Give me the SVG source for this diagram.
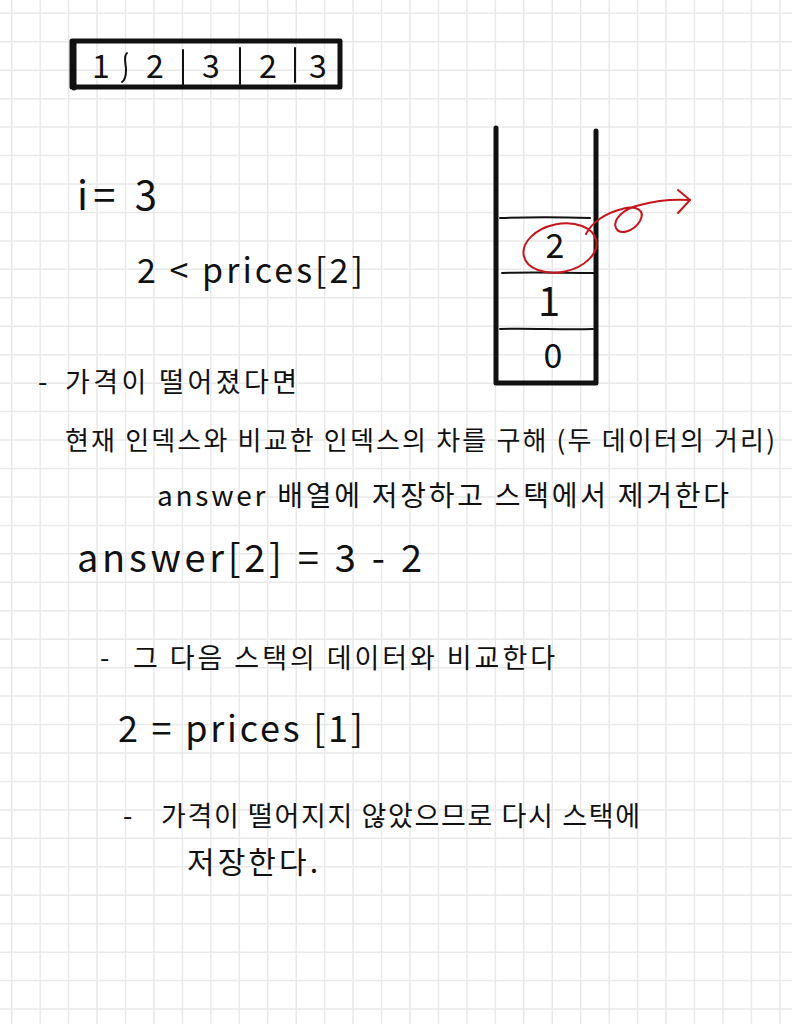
<svg xmlns="http://www.w3.org/2000/svg" width="792" height="1024" viewBox="0 0 792 1024">
<style>
text{font-family:"Noto Sans CJK KR","Noto Sans","Liberation Sans",sans-serif;fill:#111;}
.grid{stroke:#e9e9e9;stroke-width:1.5;fill:none;}
.thick{stroke:#111;stroke-width:5;fill:none;stroke-linecap:round;stroke-linejoin:round;}
.thin{stroke:#111;stroke-width:2;fill:none;stroke-linecap:round;}
.red{stroke:#c4161c;stroke-width:2;fill:none;stroke-linecap:round;stroke-linejoin:round;}
.cell{font-size:32px;text-anchor:middle;}
</style>
<rect width="792" height="1024" fill="#ffffff"/>
<g id="grid" class="grid">
<path d="M11.7 0V1024M40.15 0V1024M68.6 0V1024M97.05 0V1024M125.5 0V1024M153.95 0V1024M182.4 0V1024M210.85 0V1024M239.3 0V1024M267.75 0V1024M296.2 0V1024M324.65 0V1024M353.1 0V1024M381.55 0V1024M410 0V1024M438.45 0V1024M466.9 0V1024M495.35 0V1024M523.8 0V1024M552.25 0V1024M580.7 0V1024M609.15 0V1024M637.6 0V1024M666.05 0V1024M694.5 0V1024M722.95 0V1024M751.4 0V1024M779.85 0V1024"/>
<path d="M0 13.3H792M0 41.75H792M0 70.2H792M0 98.65H792M0 127.1H792M0 155.55H792M0 184H792M0 212.45H792M0 240.9H792M0 269.35H792M0 297.8H792M0 326.25H792M0 354.7H792M0 383.15H792M0 411.6H792M0 440.05H792M0 468.5H792M0 496.95H792M0 525.4H792M0 553.85H792M0 582.3H792M0 610.75H792M0 639.2H792M0 667.65H792M0 696.1H792M0 724.55H792M0 753H792M0 781.45H792M0 809.9H792M0 838.35H792M0 866.8H792M0 895.25H792M0 923.7H792M0 952.15H792M0 980.6H792M0 1009.05H792"/>
</g>
<g id="array">
<rect x="72" y="41" width="268" height="46" class="thick" stroke-width="4.5"/>
<path d="M74 42V88" class="thick" stroke-width="6"/>
<path d="M127 53C123 56 126 64 126 70C126 76 125 80 122 82" class="thin"/>
<path d="M183 50V85" class="thin"/>
<path d="M240 48V84" class="thin"/>
<path d="M295 48V82" class="thin"/>
<text class="cell" x="101" y="78">1</text>
<text class="cell" x="155" y="78">2</text>
<text class="cell" x="211" y="78">3</text>
<text class="cell" x="268" y="78">2</text>
<text class="cell" x="318" y="78">3</text>
</g>
<g id="loop-info">
<text x="77" y="210" style="font-size:40px" textLength="80" lengthAdjust="spacing">i= 3</text>
<text x="137" y="283" style="font-size:34px" textLength="226" lengthAdjust="spacing">2 &lt; prices[2]</text>
</g>
<g id="stack">
<path d="M496 128V383H596V131" class="thick" stroke-width="5.5"/>
<path d="M500 218C530 217 560 217 590 218" class="thin"/>
<path d="M502 273C532 272 565 273 594 273" class="thin"/>
<path d="M500 329C530 328 562 330 593 329" class="thin"/>
<text x="555" y="258" style="font-size:34px" text-anchor="middle">2</text>
<text x="549" y="316" style="font-size:40px" text-anchor="middle">1</text>
<text x="553" y="368" style="font-size:34px" text-anchor="middle">0</text>
</g>
<g id="connectors">
<ellipse cx="560" cy="248" rx="37" ry="24" transform="rotate(-12 560 248)" class="red"/>
<path d="M586 234C592 222 606 213 622 209C636 205 646 210 640 221C634 231 620 236 616 228C612 219 625 208 640 205C658 200 675 199 690 200" class="red"/>
<path d="M678 190L690 200L678 213" class="red"/>
</g>
<g id="notes">
<text style="font-size:27px" y="392"><tspan x="38">-</tspan><tspan x="65" textLength="232" lengthAdjust="spacing">가격이 떨어졌다면</tspan></text>
<text style="font-size:26px" x="65" y="450" textLength="710" lengthAdjust="spacing">현재 인덱스와 비교한 인덱스의 차를 구해 (두 데이터의 거리)</text>
<text style="font-size:28px" x="157" y="506" textLength="572" lengthAdjust="spacing">answer 배열에 저장하고 스택에서 제거한다</text>
<text style="font-size:38px" x="77" y="572" textLength="345" lengthAdjust="spacing">answer[2] = 3 - 2</text>
<text style="font-size:27px" y="668"><tspan x="100">-</tspan><tspan x="133" textLength="422" lengthAdjust="spacing">그 다음 스택의 데이터와 비교한다</tspan></text>
<text style="font-size:36px" x="118" y="742" textLength="245" lengthAdjust="spacing">2 = prices [1]</text>
<text style="font-size:27px" y="826"><tspan x="123">-</tspan><tspan x="161" textLength="479" lengthAdjust="spacing">가격이 떨어지지 않았으므로 다시 스택에</tspan></text>
<text style="font-size:30px" x="187" y="873" textLength="131" lengthAdjust="spacing">저장한다.</text>
</g>
</svg>
